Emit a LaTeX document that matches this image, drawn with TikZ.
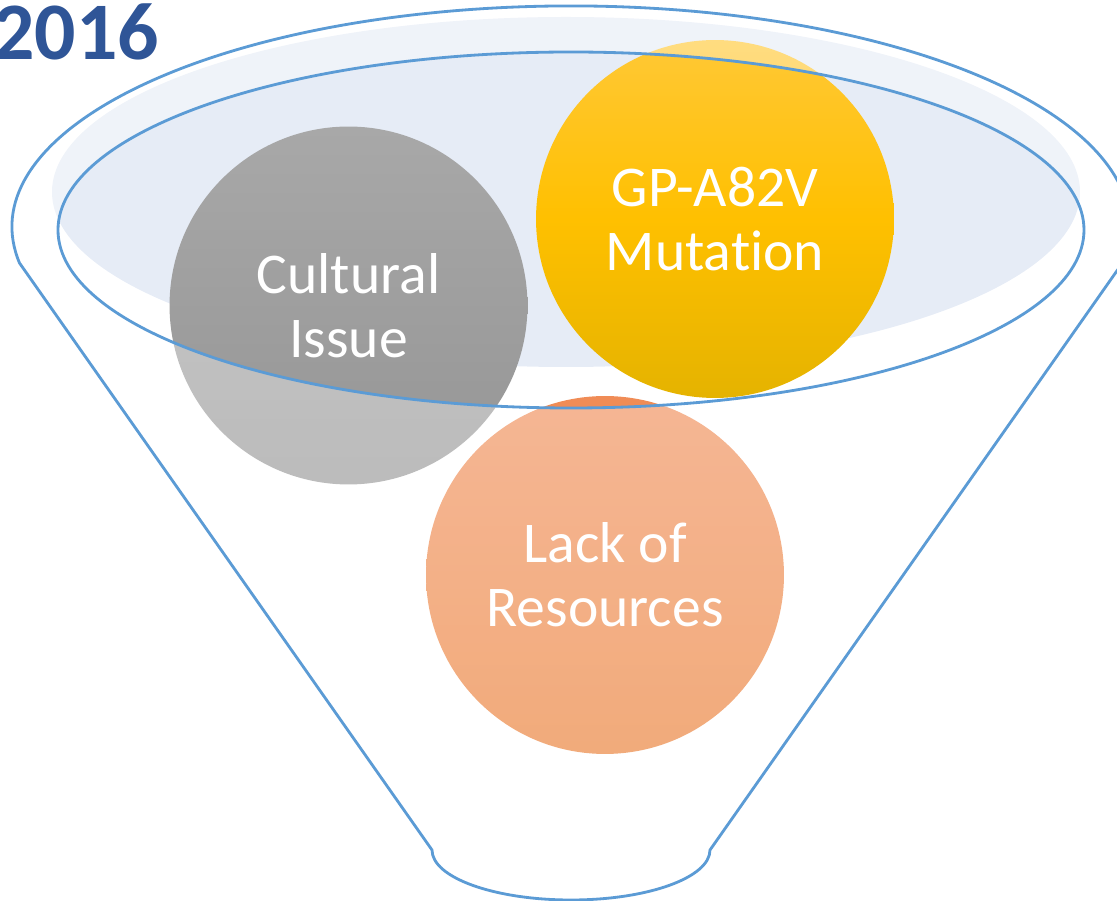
\documentclass[tikz,border=0pt]{standalone}
\usepackage{fontspec}
\setmainfont{Carlito}[Ligatures=NoCommon]
\definecolor{rimblue}{HTML}{5B9BD5}
\definecolor{glassblue}{HTML}{E6ECF6}
\definecolor{yearblue}{HTML}{2F5597}
\definecolor{greytop}{HTML}{A8A8A8}
\definecolor{greybot}{HTML}{959595}
\definecolor{goldtop}{HTML}{FFC836}
\definecolor{goldmid}{HTML}{FFC000}
\definecolor{goldbot}{HTML}{E5B300}
\definecolor{peachtop}{HTML}{F08C56}
\definecolor{peachbot}{HTML}{EA7A2E}
\begin{document}
\begin{tikzpicture}[x=0.02cm,y=-0.02cm,
        bubble/.style={circle,minimum size=7.16cm,inner sep=0pt,align=center,
            text=white,font=\fontsize{32.8}{36.3}\selectfont},
        rim/.style={draw=rimblue,line width=1.6pt}]
        \useasboundingbox (0,0) rectangle (1117,901);
        \fill[glassblue] (566,192) circle [x radius=514,y radius=175];
        \node[bubble,top color=greytop,bottom color=greybot] (cultural) at (348.5,305.5) {Cultural\\Issue};
        \node[bubble,top color=goldtop,bottom color=goldbot,middle color=goldmid] (mutation) at (715,219) {GP-A82V\\Mutation};
        \node[bubble,top color=peachtop,bottom color=peachbot] (resources) at (605,575) {Lack of\\Resources};
        \fill[white,fill opacity=0.37,even odd rule] (0,0) rectangle (1117,901)
            (571,230) circle [x radius=513,y radius=178];
        \draw[rim] (571,230) circle [x radius=513,y radius=178];
        \draw[rim] (19.5,263) arc [start angle=170.6,end angle=369.4,x radius=559,y radius=221]
            -- (710,850) arc [start angle=0,end angle=180,x radius=139,y radius=50] -- cycle;
        \node[anchor=base west,inner sep=0pt,text=yearblue,font=\bfseries\fontsize{46.5}{50}\selectfont] (year) at (-7,60) {2016};
    \end{tikzpicture}
\end{document}
